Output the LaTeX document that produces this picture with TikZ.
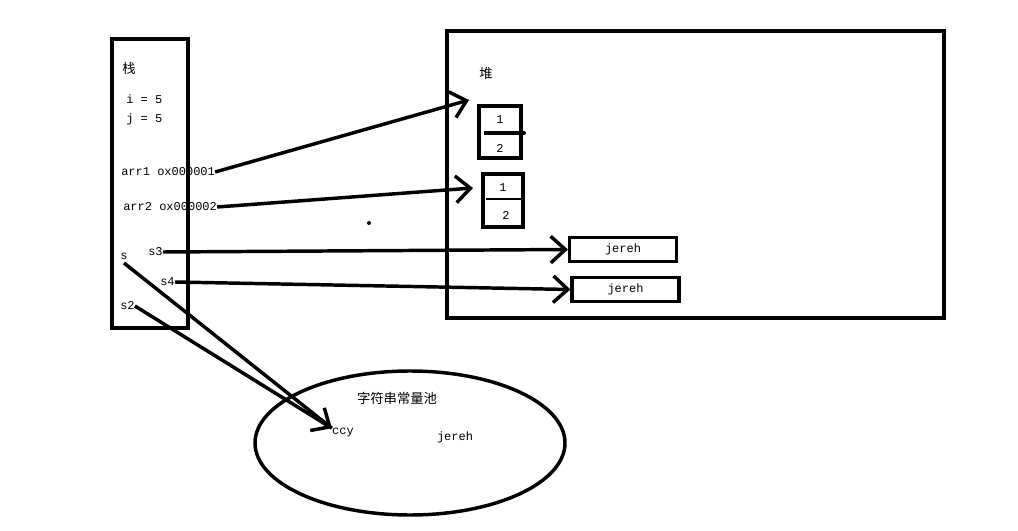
\documentclass[tikz,border=0pt]{standalone}
\usepackage{fontspec}
\setmainfont{Liberation Mono}
\newfontfamily\cjk{Noto Sans CJK SC}
\usetikzlibrary{arrows.meta}
\tikzset{
  thick line/.style={line width=2.6pt},
  ptr/.style={line width=2.6pt,-{Straight Barb[length=11pt,width=20pt,line width=2.6pt]}},
  lbl/.style={font=\fontsize{9}{10}\selectfont,inner sep=0pt},
  cn/.style={font=\cjk\fontsize{10}{11}\selectfont,inner sep=0pt}
}
\begin{document}
\begin{tikzpicture}[x=0.75pt,y=-0.75pt]
  \useasboundingbox[fill=white] (0,0) rectangle (1018,531);
  % stack and heap
  \draw[thick line] (112,39) rectangle (188,328);
  \draw[thick line] (447,31) rectangle (944,318);
  \node[cn] (stk) at (129,68) {栈};
  \node[cn] (hp) at (486,73) {堆};
  % stack entries
  \node[lbl,anchor=west] (i) at (126,99) {i = 5};
  \node[lbl,anchor=west] (j) at (126,119) {j = 5};
  \node[lbl,anchor=west] (arr1) at (121,172) {arr1 ox000001};
  \node[lbl,anchor=west] (arr2) at (123,207) {arr2 ox000002};
  \node[lbl,anchor=west] (s) at (120,256) {s};
  \node[lbl,anchor=west] (s3) at (148,252) {s3};
  \node[lbl,anchor=west] (s4) at (160,282) {s4};
  \node[lbl,anchor=west] (s2) at (120,306) {s2};
  % arrays in heap
  \draw[thick line] (479,106) rectangle (521,158);
  \draw[thick line] (484,133) -- (524,133);
  \fill (524,133) circle (2);
  \node[lbl] (a11) at (500,120) {1};
  \node[lbl] (a12) at (500,148) {2};
  \draw[thick line] (483,174) rectangle (523,227);
  \draw[line width=2pt] (486,199) -- (521,199);
  \node[lbl] (a21) at (503,188) {1};
  \node[lbl] (a22) at (506,215) {2};
  \fill (369,223) circle (2);
  % strings in heap
  \node[draw,thick line,minimum width=80pt,minimum height=18pt,lbl] (h1) at (623,249.5) {jereh};
  \node[draw,thick line,minimum width=80pt,minimum height=18pt,lbl] (h2) at (625.5,289.5) {jereh};
  % constant pool
  \draw[thick line] (410,443) ellipse (155 and 72);
  \node[cn] (pool) at (397,398) {字符串常量池};
  \node[lbl] (ccy) at (343,433) {ccy};
  \node[lbl] (jp) at (455,437) {jereh};
  \coordinate (c1) at (469,100);
  \coordinate (c2) at (473,188);
  % pointers
  \draw[ptr] (arr1.east) -- (c1);
  \draw[ptr] (arr2.east) -- (c2);
  \draw[ptr] (s3.east) -- (h1.west);
  \draw[ptr] (s4.east) -- (h2.west);
  \draw[line width=2.6pt] (124,263) -- (ccy.north west);
  \draw[ptr] (s2.east) -- (ccy.north west);
\end{tikzpicture}
\end{document}
